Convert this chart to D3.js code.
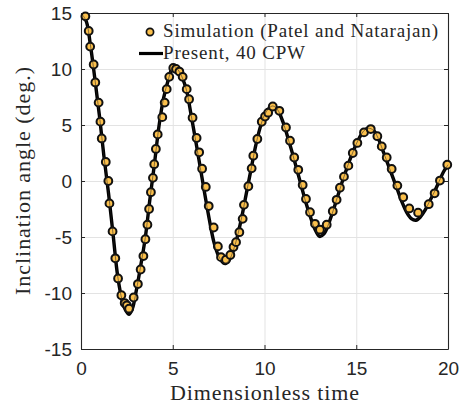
<!DOCTYPE html>
<html>
<head>
<meta charset="utf-8">
<script src="https://cdn.jsdelivr.net/npm/d3@7"></script>
<style>
  body { margin: 0; background: #fff; }
  .tick text { font-family: "Liberation Sans", Arial, sans-serif; font-size: 19px; fill: #262626; }
  .axis-label, .legend-text { font-family: "Liberation Serif", "Times New Roman", serif; fill: #262626; }
</style>
</head>
<body>
<div id="wrapper"></div>
<script>
// simulation points (Patel and Natarajan)
const simTime = [0.24, 0.42, 0.50, 0.69, 0.78, 0.96, 1.06, 1.13, 1.35, 1.49, 1.55, 1.72, 1.87, 2.02, 2.20, 2.38, 2.50, 2.62,
  2.87, 3.10, 3.25, 3.40, 3.51, 3.62, 3.71, 3.81, 3.92, 3.99, 4.08, 4.18, 4.43, 4.56, 4.67, 4.81, 5.03, 5.18, 5.36,
  5.54, 5.76, 5.89, 6.08, 6.30, 6.44, 6.60, 6.80, 6.96, 7.23, 7.46, 7.63, 7.90, 8.14, 8.31, 8.45, 8.63, 8.81, 8.88,
  9.12, 9.30, 9.39, 9.61, 9.85, 10.03, 10.20, 10.45, 10.81, 11.17, 11.39, 11.62, 11.84, 12.08, 12.26, 12.48, 12.75,
  13.02, 13.39, 13.72, 13.93, 14.11, 14.33, 14.57, 14.81, 15.06, 15.42, 15.79, 16.15, 16.39, 16.66, 16.93, 17.24,
  17.56, 17.89, 18.37, 18.95, 19.27, 19.56, 19.96]
const simAngle = [14.7, 13.4, 12.0, 10.4, 8.8, 7.0, 5.3, 3.8, 1.7, 0.0, -2.0, -4.5, -6.9, -8.7, -10.2, -10.9, -11.1, -11.4,
  -10.4, -9.2, -7.9, -6.7, -5.2, -3.9, -2.5, -1.0, 0.28, 1.5, 2.86, 4.16, 5.7, 7.0, 8.2, 9.3, 10.1, 10.0, 9.77,
  9.3, 8.2, 7.3, 5.65, 3.84, 2.56, 1.1, -0.53, -2.24, -4.15, -5.84, -6.8, -7.03, -6.6, -5.9, -5.46, -4.57, -3.38, -2.13,
  -0.47, 1.13, 2.26, 3.75, 5.29, 5.76, 6.1, 6.65, 6.27, 4.78, 3.6, 2.1, 1.0, -0.35, -1.6, -2.79, -3.82,
  -4.35, -3.9, -2.7, -1.68, -0.6, 0.39, 1.37, 2.5, 3.4, 4.34, 4.64, 4.0, 3.09, 2.1, 1.07, -0.41,
  -1.45, -2.45, -2.83, -2.07, -1.1, 0.04, 1.45]

// present result, 40 CPW
const lineTime = [0.1, 0.3, 0.5, 0.75, 1.0, 1.25, 1.5, 1.75, 2.0, 2.25, 2.45, 2.62, 2.8, 3.0, 3.25, 3.5, 3.75, 4.0,
  4.25, 4.5, 4.75, 4.95, 5.1, 5.3, 5.5, 5.75, 6.0, 6.25, 6.5, 6.75, 7.0, 7.25, 7.5, 7.75, 7.9, 8.1, 8.3, 8.5,
  8.75, 9.0, 9.25, 9.5, 9.75, 10.0, 10.25, 10.45, 10.7, 11.0, 11.25, 11.5, 11.75, 12.0, 12.25, 12.5, 12.75, 13.0,
  13.25, 13.5, 13.75, 14.0, 14.25, 14.5, 14.75, 15.0, 15.25, 15.5, 15.75, 16.0, 16.25, 16.5, 16.75, 17.0, 17.25,
  17.5, 17.75, 18.0, 18.25, 18.5, 18.75, 19.0, 19.25, 19.5, 19.75, 20.0]
const lineAngle = [14.8, 14.2, 12.3, 9.2, 5.9, 2.2, -1.1, -4.8, -8.5, -10.7, -11.6, -11.9, -11.4, -9.9, -7.6, -5.1, -1.7, 1.5,
  4.9, 7.4, 9.0, 10.0, 10.2, 9.9, 9.3, 8.1, 5.9, 3.6, 1.2, -1.2, -3.5, -5.5, -6.7, -7.3, -7.35, -7.0, -6.2, -5.1,
  -3.3, -1.2, 0.9, 3.0, 4.7, 5.9, 6.5, 6.7, 6.4, 5.3, 4.0, 2.6, 1.1, -0.4, -1.9, -3.2, -4.3, -4.95,
  -4.7, -3.8, -2.6, -1.3, 0.0, 1.2, 2.3, 3.3, 4.1, 4.6, 4.7, 4.4, 3.6, 2.5, 1.4, 0.3, -0.8,
  -1.9, -2.8, -3.35, -3.5, -3.2, -2.6, -1.8, -1.0, -0.1, 0.8, 1.45]

const xTicks = [0, 5, 10, 15, 20]
const yTicks = [-15, -10, -5, 0, 5, 10, 15]
const legendLabels = ["Simulation (Patel and Natarajan)", "Present, 40 CPW"]

function drawChart() {
    const dimensions = {
        width: 459,
        height: 412,
        margin: { top: 13, right: 11, bottom: 63, left: 81 },
    }
    dimensions.boundedWidth = dimensions.width - dimensions.margin.left - dimensions.margin.right
    dimensions.boundedHeight = dimensions.height - dimensions.margin.top - dimensions.margin.bottom

    const markerFill = "#fbc04c"
    const axisColor = "#262626"

    const wrapper = d3.select("#wrapper")
        .append("svg")
        .attr("width", dimensions.width)
        .attr("height", dimensions.height)

    const bounds = wrapper.append("g")
        .attr("transform", `translate(${dimensions.margin.left},${dimensions.margin.top})`)

    const xScale = d3.scaleLinear()
        .domain([0, 20])
        .range([0, dimensions.boundedWidth])
    const yScale = d3.scaleLinear()
        .domain([-15, 15])
        .range([dimensions.boundedHeight, 0])

    // grid
    bounds.append("g")
        .call(d3.axisBottom(xScale).tickValues(xTicks).tickSize(dimensions.boundedHeight).tickFormat(""))
        .call(g => g.select(".domain").remove())
        .selectAll("line").attr("stroke", "#e3e3e3")
    bounds.append("g")
        .call(d3.axisLeft(yScale).tickValues(yTicks).tickSize(-dimensions.boundedWidth).tickFormat(""))
        .call(g => g.select(".domain").remove())
        .selectAll("line").attr("stroke", "#e3e3e3")

    // axes, ticks inward on all four sides
    const fmt = d => String(d)
    const xAxis = bounds.append("g")
        .attr("transform", `translate(0,${dimensions.boundedHeight})`)
        .call(d3.axisBottom(xScale).tickValues(xTicks).tickSizeInner(-4).tickSizeOuter(0).tickPadding(13).tickFormat(fmt))
    const yAxis = bounds.append("g")
        .call(d3.axisLeft(yScale).tickValues(yTicks).tickSizeInner(-4).tickSizeOuter(0).tickPadding(9).tickFormat(fmt))
    const xTop = bounds.append("g")
        .call(d3.axisTop(xScale).tickValues(xTicks).tickSizeInner(-4).tickSizeOuter(0).tickFormat(""))
    const yRight = bounds.append("g")
        .attr("transform", `translate(${dimensions.boundedWidth},0)`)
        .call(d3.axisRight(yScale).tickValues(yTicks).tickSizeInner(-4).tickSizeOuter(0).tickFormat(""))
    ;[xAxis, yAxis, xTop, yRight].forEach(a => {
        a.select(".domain").attr("stroke", axisColor).attr("stroke-width", 1.1)
        a.selectAll(".tick line").attr("stroke", axisColor)
    })
    xAxis.selectAll(".tick text").attr("dy", "0.71em")

    // present line (thick)
    const lineData = d3.zip(lineTime, lineAngle)
    const lineGen = d3.line()
        .x(d => xScale(d[0]))
        .y(d => yScale(d[1]))
        .curve(d3.curveCatmullRom)
    bounds.append("path")
        .datum(lineData)
        .attr("d", lineGen)
        .attr("fill", "none")
        .attr("stroke", "#000")
        .attr("stroke-width", 3.4)
        .attr("stroke-linejoin", "round")

    // simulation markers
    const simData = d3.zip(simTime, simAngle)
    bounds.append("g")
        .selectAll("circle")
        .data(simData)
        .join("circle")
        .attr("cx", d => xScale(d[0]))
        .attr("cy", d => yScale(d[1]))
        .attr("r", 3.9)
        .attr("fill", markerFill)
        .attr("stroke", "#111")
        .attr("stroke-width", 2)

    // thin trace of the line over the markers
    bounds.append("path")
        .datum(lineData)
        .attr("d", lineGen)
        .attr("fill", "none")
        .attr("stroke", "#222")
        .attr("stroke-opacity", 0.6)
        .attr("stroke-width", 0.9)

    // axis labels
    wrapper.append("text")
        .attr("class", "axis-label")
        .attr("x", dimensions.margin.left + dimensions.boundedWidth / 2)
        .attr("y", 400)
        .attr("text-anchor", "middle")
        .attr("font-size", 22)
        .attr("textLength", 189)
        .attr("lengthAdjust", "spacing")
        .text("Dimensionless time")

    wrapper.append("text")
        .attr("class", "axis-label")
        .attr("transform", `translate(30,${dimensions.margin.top + dimensions.boundedHeight / 2}) rotate(-90)`)
        .attr("text-anchor", "middle")
        .attr("font-size", 22)
        .attr("textLength", 228)
        .attr("lengthAdjust", "spacing")
        .text("Inclination angle (deg.)")

    // legend (no box)
    const legend = wrapper.append("g")
    legend.append("circle")
        .attr("cx", 150)
        .attr("cy", 32)
        .attr("r", 3.6)
        .attr("fill", markerFill)
        .attr("stroke", "#111")
        .attr("stroke-width", 1.7)
    legend.append("line")
        .attr("x1", 139).attr("x2", 163)
        .attr("y1", 53.5).attr("y2", 53.5)
        .attr("stroke", "#000")
        .attr("stroke-width", 3.2)
    const legendWidths = [275, 142]
    legend.selectAll(".legend-text")
        .data(legendLabels)
        .join("text")
        .attr("class", "legend-text")
        .attr("x", 163)
        .attr("y", (d, i) => 36.5 + i * 22)
        .attr("font-size", 19)
        .attr("textLength", (d, i) => legendWidths[i])
        .attr("lengthAdjust", "spacing")
        .text(d => d)
}
drawChart()
</script>
</body>
</html>
